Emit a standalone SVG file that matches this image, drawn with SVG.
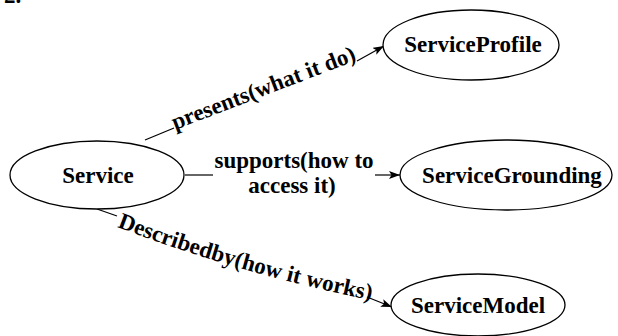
<svg xmlns="http://www.w3.org/2000/svg" width="618" height="336" viewBox="0 0 618 336">
<style>
.node ellipse{fill:#fff;stroke:#000;stroke-width:1.3}
.t{font-family:'Liberation Serif','Times New Roman',serif;font-weight:700;font-size:23px;fill:#000}
.nl{text-anchor:middle}
.edge{fill:none;stroke:#000;stroke-width:1.2}
</style>
<defs>
<marker id="arr" markerUnits="userSpaceOnUse" markerWidth="12" markerHeight="10" refX="11" refY="4" orient="auto">
<path d="M0,0 L11,4 L0,8 L2.5,4 Z" fill="#000"/>
</marker>
<path id="dpath" d="M117,227 Q240,274 380,302"/>
</defs>
<rect width="618" height="336" fill="#fff"/>
<text class="t" x="4" y="2.5">2.</text>
<g id="connectors">
<line class="edge" x1="145" y1="140" x2="174" y2="128"/>
<line class="edge" x1="357" y1="61" x2="384" y2="46" marker-end="url(#arr)"/>
<text class="t nl" x="266" y="95" transform="rotate(-21 266 95)">presents(what it do)</text>
<line class="edge" x1="185" y1="175" x2="213" y2="175"/>
<line class="edge" x1="375" y1="175" x2="400" y2="175" marker-end="url(#arr)"/>
<text class="t nl" x="294" y="168">supports(how to</text>
<text class="t nl" x="292" y="193">access it)</text>
<line class="edge" x1="97" y1="209" x2="117" y2="216"/>
<line class="edge" x1="367" y1="297" x2="392" y2="307" marker-end="url(#arr)"/>
<text class="t"><textPath href="#dpath">Describedby(how it works)</textPath></text>
</g>
<g id="Service" class="node">
<ellipse cx="97" cy="175" rx="87" ry="34"/>
<text class="t nl" x="98" y="183">Service</text>
</g>
<g id="ServiceProfile" class="node">
<ellipse cx="471" cy="45" rx="88" ry="35"/>
<text class="t nl" x="473" y="52">ServiceProfile</text>
</g>
<g id="ServiceGrounding" class="node">
<ellipse cx="506" cy="175" rx="106" ry="35"/>
<text class="t nl" x="512" y="183">ServiceGrounding</text>
</g>
<g id="ServiceModel" class="node">
<ellipse cx="478" cy="305" rx="87" ry="31"/>
<text class="t nl" x="478" y="313">ServiceModel</text>
</g>
</svg>
